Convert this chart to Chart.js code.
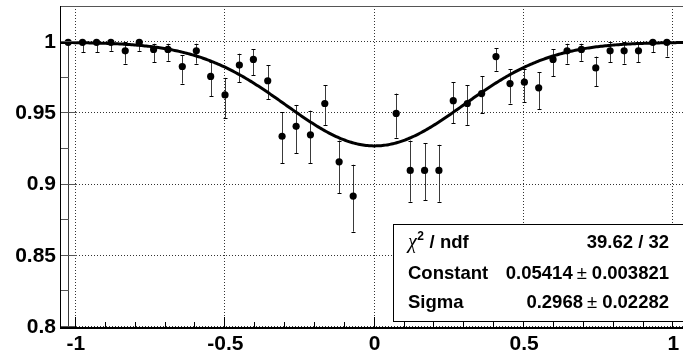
<!DOCTYPE html>
<html>
<head>
<meta charset="utf-8">
<script src="https://cdn.jsdelivr.net/npm/chart.js@4/dist/chart.umd.min.js"></script>
<style>
  html, body { margin: 0; padding: 0; background: #fff; overflow: hidden; }
  #plot { display: block; }
</style>
</head>
<body>
<canvas id="plot" width="683" height="358"></canvas>
<script>
// Bin centres (x) of the measured efficiency points
const binCenters = [
  -1.026, -0.978, -0.931, -0.883, -0.835, -0.788, -0.740, -0.692, -0.644, -0.597,
  -0.549, -0.501, -0.453, -0.406, -0.358, -0.310, -0.263, -0.215, -0.167, -0.119,
  -0.072,
   0.072,  0.119,  0.167,  0.215,  0.263,  0.310,  0.358,  0.406,  0.453,
   0.501,  0.549,  0.597,  0.644,  0.692,  0.740,  0.788,  0.835,  0.883,  0.931,
   0.978
];
// Measured values
const efficiency = [
  1.000, 1.000, 1.000, 1.000, 0.994, 1.000, 0.995, 0.995, 0.983, 0.994,
  0.976, 0.963, 0.984, 0.988, 0.973, 0.934, 0.941, 0.935, 0.957, 0.916,
  0.892,
  0.950, 0.910, 0.910, 0.910, 0.959, 0.957, 0.964, 0.990, 0.971,
  0.972, 0.968, 0.988, 0.994, 0.995, 0.982, 0.994, 0.994, 0.994, 1.000,
  1.000
];
// Asymmetric errors (upper bound never exceeds 1)
const errUp = [
  0.000, 0.000, 0.000, 0.000, 0.006, 0.000, 0.004, 0.004, 0.008, 0.005,
  0.010, 0.012, 0.008, 0.007, 0.011, 0.017, 0.015, 0.017, 0.013, 0.015,
  0.022,
  0.014, 0.021, 0.019, 0.018, 0.013, 0.013, 0.012, 0.006, 0.010,
  0.009, 0.011, 0.007, 0.005, 0.004, 0.008, 0.006, 0.006, 0.006, 0.000,
  0.000
];
const errDown = [
  0.840, 0.007, 0.007, 0.006, 0.009, 0.006, 0.009, 0.008, 0.012, 0.009,
  0.014, 0.016, 0.012, 0.011, 0.013, 0.019, 0.019, 0.020, 0.015, 0.022,
  0.025,
  0.017, 0.022, 0.021, 0.022, 0.016, 0.015, 0.014, 0.010, 0.014,
  0.014, 0.015, 0.012, 0.009, 0.008, 0.013, 0.008, 0.009, 0.008, 0.007,
  0.010
];

// Axis tick values
const xTicks = [-1, -0.5, 0, 0.5, 1];
const yTicks = [0.8, 0.85, 0.9, 0.95, 1];

// Fit result: 1 - Constant * normalised Gaussian(0, Sigma)
const fitConstant = 0.05414;
const fitConstantErr = 0.003821;
const fitSigma = 0.2968;
const fitSigmaErr = 0.02282;
const fitChi2 = 39.62;
const fitNdf = 32;

const X_MIN = -1.05, X_MAX = 1.032;
const Y_MIN = 0.8, Y_MAX = 1.0255;

function fitModel(x) {
  return 1 - fitConstant / (Math.sqrt(2 * Math.PI) * fitSigma) *
    Math.exp(-x * x / (2 * fitSigma * fitSigma));
}
const fitCurve = [];
for (let i = 0; i <= 416; i++) {
  const x = X_MIN + i * (X_MAX - X_MIN) / 416;
  fitCurve.push({ x: x, y: fitModel(x) });
}

const points = binCenters.map((x, i) => ({ x: x, y: efficiency[i] }));

const FONT = "'Liberation Sans', Arial, Helvetica, sans-serif";

function fmt(v) { return String(parseFloat(v.toFixed(3))); }

// Frame, dotted grid, minor ticks, error bars and the fit statistics box
const rootStyle = {
  id: 'rootStyle',
  beforeDatasetsDraw(chart) {
    const ctx = chart.ctx, ca = chart.chartArea;
    const xs = chart.scales.x, ys = chart.scales.y;
    ctx.save();
    // dotted grid
    ctx.strokeStyle = '#333';
    ctx.lineWidth = 1;
    ctx.setLineDash([1, 2]);
    xTicks.forEach(v => {
      const px = Math.round(xs.getPixelForValue(v)) - 0.5;
      ctx.beginPath(); ctx.moveTo(px, ca.top); ctx.lineTo(px, ca.bottom); ctx.stroke();
    });
    yTicks.forEach(v => {
      const py = Math.round(ys.getPixelForValue(v)) - 0.5;
      ctx.beginPath(); ctx.moveTo(ca.left, py); ctx.lineTo(ca.right, py); ctx.stroke();
    });
    ctx.setLineDash([]);

    // error bars
    ctx.beginPath();
    ctx.rect(ca.left, ca.top, ca.right - ca.left, ca.bottom - ca.top);
    ctx.clip();
    binCenters.forEach((x, i) => {
      const px = Math.round(xs.getPixelForValue(x)) + 0.5;
      const yHi = ys.getPixelForValue(efficiency[i] + errUp[i]);
      const yLo = ys.getPixelForValue(efficiency[i] - errDown[i]);
      ctx.strokeStyle = '#3a3a3a';
      ctx.beginPath(); ctx.moveTo(px, yHi); ctx.lineTo(px, yLo); ctx.stroke();
      ctx.strokeStyle = '#000';
      [[errUp[i], yHi], [errDown[i], yLo]].forEach(([e, py]) => {
        if (e > 0) {
          const y = Math.round(py) + 0.5;
          ctx.beginPath(); ctx.moveTo(px - 2, y); ctx.lineTo(px + 2, y); ctx.stroke();
        }
      });
    });
    ctx.restore();
  },
  afterDatasetsDraw(chart) {
    const ctx = chart.ctx, ca = chart.chartArea;
    const xs = chart.scales.x, ys = chart.scales.y;
    ctx.save();
    // frame
    ctx.fillStyle = '#555';
    ctx.fillRect(ca.left - 1, ca.top, ca.right - ca.left + 1, 1);
    ctx.fillStyle = '#000';
    ctx.fillRect(ca.left - 1, ca.top, 1, ca.bottom - ca.top + 2);
    ctx.fillRect(ca.left - 1, ca.bottom, ca.right - ca.left + 1, 2);

    // y ticks (major + one minor between)
    ctx.strokeStyle = '#555';
    ctx.lineWidth = 1;
    for (let i = 0; i < yTicks.length; i++) {
      const vals = [[yTicks[i], 16]];
      if (i < yTicks.length - 1) vals.push([(yTicks[i] + yTicks[i + 1]) / 2, 8]);
      vals.forEach(([v, len]) => {
        const py = Math.round(ys.getPixelForValue(v)) - 0.5;
        ctx.beginPath(); ctx.moveTo(ca.left, py); ctx.lineTo(ca.left + len, py); ctx.stroke();
      });
    }
    // x ticks (major + minor every fifth)
    ctx.strokeStyle = '#000';
    for (let i = 0; i < xTicks.length; i++) {
      const step = i < xTicks.length - 1 ? (xTicks[i + 1] - xTicks[i]) / 5 : 0;
      const px0 = Math.round(xs.getPixelForValue(xTicks[i])) - 0.5;
      ctx.beginPath(); ctx.moveTo(px0, ca.bottom); ctx.lineTo(px0, ca.bottom - 10); ctx.stroke();
      if (step) {
        for (let k = 1; k < 5; k++) {
          const px = Math.round(xs.getPixelForValue(xTicks[i] + k * step)) - 0.5;
          ctx.beginPath(); ctx.moveTo(px, ca.bottom); ctx.lineTo(px, ca.bottom - 5); ctx.stroke();
        }
      }
    }
    ctx.restore();
  },
  afterDraw(chart) {
    const ctx = chart.ctx;
    ctx.save();
    // statistics box
    const bx = 393.5, by = 224.5, bw = 300, bh = 97;
    ctx.fillStyle = '#fff';
    ctx.fillRect(bx, by, bw, bh);
    ctx.strokeStyle = '#000';
    ctx.lineWidth = 1;
    ctx.strokeRect(bx, by, bw, bh);

    const left = 408, right = 669;
    const rows = [248, 278.5, 307.5];
    const bold = 'bold 18.5px ' + FONT;
    const plain = '18.5px ' + FONT;
    ctx.fillStyle = '#000';
    ctx.textBaseline = 'alphabetic';

    // row 1: chi2 / ndf
    ctx.textAlign = 'left';
    ctx.font = "italic 20px 'Liberation Serif', serif";
    ctx.fillText('\u03C7', left, rows[0]);
    let w = ctx.measureText('\u03C7').width;
    ctx.font = 'bold 12px ' + FONT;
    ctx.fillText('2', left + w + 0.5, rows[0] - 8);
    const w2 = ctx.measureText('2').width;
    ctx.font = bold;
    ctx.fillText(' / ndf', left + w + w2 + 1, rows[0]);
    ctx.textAlign = 'right';
    ctx.fillText(fitChi2.toFixed(2) + ' / ' + fitNdf, right, rows[0]);

    // rows 2-3: parameters with errors
    const params = [
      ['Constant', fitConstant.toFixed(5), fitConstantErr.toFixed(6)],
      ['Sigma', fitSigma.toFixed(4), fitSigmaErr.toFixed(5)]
    ];
    params.forEach(([name, val, err], i) => {
      const y = rows[i + 1];
      ctx.textAlign = 'left';
      ctx.font = bold;
      ctx.fillText(name, left, y);
      ctx.textAlign = 'right';
      ctx.fillText(err, right, y);
      let xr = right - ctx.measureText(err).width - 5;
      ctx.font = plain;
      ctx.fillText('\u00B1', xr, y);
      xr -= ctx.measureText('\u00B1').width + 4;
      ctx.font = bold;
      ctx.fillText(val, xr, y);
    });
    ctx.restore();
  }
};

const tickFont = { family: FONT, size: 21, weight: 'bold' };

new Chart(document.getElementById('plot'), {
  type: 'scatter',
  data: {
    datasets: [
      {
        label: 'fit',
        data: fitCurve,
        showLine: true,
        pointRadius: 0,
        borderColor: '#000',
        borderWidth: 3,
        tension: 0,
        order: 2
      },
      {
        label: 'efficiency',
        data: points,
        pointRadius: 3.6,
        pointBackgroundColor: '#000',
        pointBorderWidth: 0,
        showLine: false,
        order: 1
      }
    ]
  },
  options: {
    responsive: false,
    animation: false,
    devicePixelRatio: 1,
    layout: { autoPadding: false, padding: { top: 6, left: 0, right: 0, bottom: 0 } },
    plugins: { legend: { display: false }, tooltip: { enabled: false } },
    scales: {
      x: {
        type: 'linear',
        min: X_MIN,
        max: X_MAX,
        afterFit(s) { s.height = 31; s.paddingLeft = 0; s.paddingRight = 0; },
        afterBuildTicks(s) { s.ticks = xTicks.map(v => ({ value: v })); },
        grid: { display: false, drawTicks: false },
        border: { display: false },
        ticks: {
          autoSkip: false, maxRotation: 0, padding: 5,
          color: '#000', font: tickFont,
          callback: v => fmt(v)
        }
      },
      y: {
        type: 'linear',
        min: Y_MIN,
        max: Y_MAX,
        afterFit(s) { s.width = 61; s.paddingTop = 0; s.paddingBottom = 0; },
        afterBuildTicks(s) { s.ticks = yTicks.map(v => ({ value: v })); },
        grid: { display: false, drawTicks: false },
        border: { display: false },
        ticks: {
          autoSkip: false, padding: 5,
          color: '#000', font: tickFont,
          callback: v => fmt(v)
        }
      }
    }
  },
  plugins: [rootStyle]
});
</script>
</body>
</html>
